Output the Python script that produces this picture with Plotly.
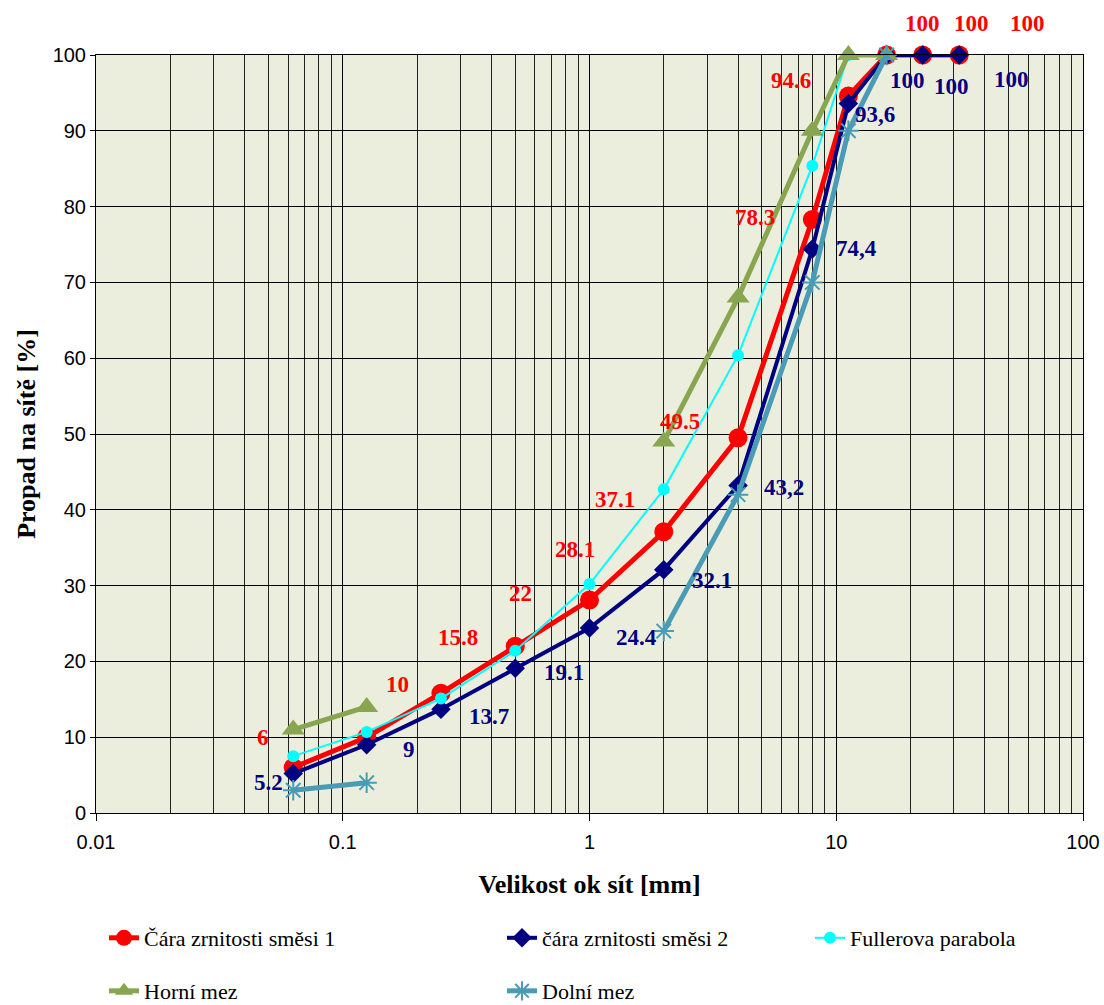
import math
import plotly.graph_objects as go

# ---- data ----
sieves = [0.063, 0.125, 0.25, 0.5, 1, 2, 4, 8, 11.2, 16, 22.4, 31.5]
mix1 = [6, 10, 15.8, 22, 28.1, 37.1, 49.5, 78.3, 94.6, 100, 100, 100]
mix2 = [5.2, 9, 13.7, 19.1, 24.4, 32.1, 43.2, 74.4, 93.6, 100, 100, 100]
fuller_x = [0.063, 0.125, 0.25, 0.5, 1, 2, 4, 8, 11.2]
fuller_y = [7.5, 10.7, 15.1, 21.4, 30.2, 42.7, 60.4, 85.4, 100]
upper_x = [0.063, 0.125, None, 2, 4, 8, 11.2, 16]
upper_y = [11, 14, None, 49, 68, 90, 100, 100]
lower_x = [0.063, 0.125, None, 2, 4, 8, 11.2, 16]
lower_y = [3, 4, None, 24, 42, 70, 90, 100]

mix1_labels = ["6", "10", "15.8", "22", "28.1", "37.1", "49.5", "78.3", "94.6", "100", "100", "100"]
mix1_label_x = [0.0475, 0.166, 0.293, 0.523, 0.873, 1.268, 2.33, 4.69, 6.56, 22.3, 35.2, 59.8]
mix1_label_y = [10.0, 16.9, 23.1, 29.0, 34.7, 41.3, 51.7, 78.5, 96.7, 104.2, 104.2, 104.2]
mix2_labels = ["5.2", "9", "13.7", "19.1", "24.4", "32.1", "43,2", "74,4", "93,6", "100", "100", "100"]
mix2_label_x = [0.0498, 0.185, 0.392, 0.788, 1.557, 3.14, 6.14, 12.1, 14.4, 19.4, 29.2, 51.1]
mix2_label_y = [4.0, 8.4, 12.7, 18.5, 23.2, 30.7, 42.9, 74.5, 92.1, 96.6, 95.8, 96.8]

x_ticks = [0.01, 0.1, 1, 10, 100]
x_tick_text = ["0.01", "0.1", "1", "10", "100"]
y_ticks = list(range(0, 101, 10))

RED = "#FF0000"
NAVY = "#000080"
CYAN = "#00FFFF"
GREEN = "#88A650"
TEAL = "#4A9BB5"

fig = go.Figure()
fig.add_trace(go.Scatter(x=sieves, y=mix1, mode="lines+markers", name="Čára zrnitosti směsi 1",
                         line=dict(color=RED, width=5), marker=dict(symbol="circle", size=19, color=RED),
                         cliponaxis=False, legend="legend"))
fig.add_trace(go.Scatter(x=sieves, y=mix2, mode="lines+markers", name="čára zrnitosti směsi 2",
                         line=dict(color=NAVY, width=4), marker=dict(symbol="diamond", size=15, color=NAVY),
                         cliponaxis=False, legend="legend"))
fig.add_trace(go.Scatter(x=fuller_x, y=fuller_y, mode="lines+markers", name="Fullerova parabola",
                         line=dict(color=CYAN, width=2), marker=dict(symbol="circle", size=12, color=CYAN),
                         cliponaxis=False, legend="legend3"))
fig.add_trace(go.Scatter(x=upper_x, y=upper_y, mode="lines+markers", name="Horní mez",
                         line=dict(color=GREEN, width=5), marker=dict(symbol="triangle-up", size=20, color=GREEN),
                         cliponaxis=False, connectgaps=False, legend="legend2"))
fig.add_trace(go.Scatter(x=lower_x, y=lower_y, mode="lines+markers", name="Dolní mez",
                         line=dict(color=TEAL, width=5),
                         marker=dict(symbol="asterisk-open", size=17, color=TEAL, line=dict(color=TEAL, width=2)),
                         cliponaxis=False, connectgaps=False, legend="legend2"))

lab_font = dict(family="Liberation Serif, Times New Roman, serif", size=23)
for t, x, y in zip(mix1_labels, mix1_label_x, mix1_label_y):
    fig.add_annotation(x=math.log10(x), y=y / 100.0, yref="paper", text="<b>%s</b>" % t, showarrow=False,
                       xanchor="center", yanchor="middle", font=dict(color=RED, **lab_font))
for t, x, y in zip(mix2_labels, mix2_label_x, mix2_label_y):
    fig.add_annotation(x=math.log10(x), y=y / 100.0, yref="paper", text="<b>%s</b>" % t, showarrow=False,
                       xanchor="center", yanchor="middle", font=dict(color=NAVY, **lab_font))

tick_font = dict(family="Liberation Sans, Arial", size=20, color="black")
title_font = dict(family="Liberation Serif, Times New Roman, serif", size=26, color="black")

fig.update_xaxes(type="log", range=[-2, 2], tickvals=x_ticks, ticktext=x_tick_text,
                 tickfont=tick_font, ticks="outside", ticklen=7, tickcolor="black",
                 ticklabelstandoff=4,
                 showgrid=True, gridcolor="#000000", gridwidth=1,
                 minor=dict(showgrid=True, gridcolor="#222222", gridwidth=1, ticks="", dtick="D1"),
                 showline=True, linecolor="black", linewidth=1, mirror=True, zeroline=False,
                 automargin=False,
                 title=dict(text="<b>Velikost ok sít [mm]</b>", font=title_font, standoff=22))
fig.update_yaxes(range=[0, 100], tickvals=y_ticks, tickfont=tick_font,
                 ticks="outside", ticklen=5, tickcolor="black",
                 showgrid=True, gridcolor="#000000", gridwidth=1,
                 showline=True, linecolor="black", linewidth=1, mirror=True, zeroline=False,
                 automargin=False,
                 title=dict(text="<b>Propad na sítě [%]</b>", font=title_font, standoff=9))


# page pixel -> plot-area fraction (plot area spans x 96..1083, y 55..813 on the page)
def py(pix):
    return (813 - pix) / (813 - 55)


def px(pix):
    return (pix - 96) / (1083 - 96)


leg_font = dict(family="Liberation Serif, Times New Roman, serif", size=22, color="black")
common = dict(orientation="h", font=leg_font, bgcolor="rgba(0,0,0,0)", yanchor="middle", yref="paper",
              xanchor="left", xref="paper")
fig.update_layout(
    width=1104, height=1005,
    margin=dict(l=96, r=21, t=55, b=192, autoexpand=False),
    plot_bgcolor="#EBEEDD", paper_bgcolor="white",
    showlegend=True,
    legend=dict(x=px(104), y=py(938), entrywidth=353, **common),
    legend3=dict(x=px(810), y=py(938), **common),
    legend2=dict(x=px(104), y=py(991), entrywidth=353, **common),
)

fig.write_html("out.html", config={"displayModeBar": False},
               post_script="document.body.style.margin='0';document.body.style.overflow='hidden';")
